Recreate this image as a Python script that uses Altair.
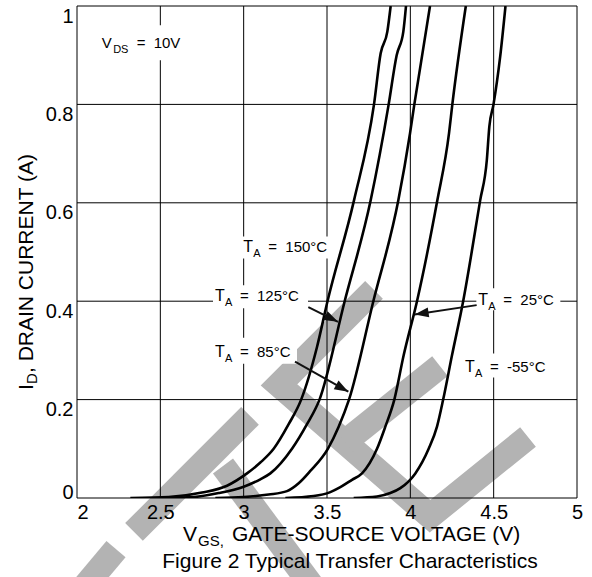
import math
import altair as alt
import pandas as pd

W, H = 500, 492
FONT = "Liberation Sans"
PXX = W / 3.0   # pixels per volt
PXY = H / 1.0   # pixels per ampere

# axis ticks
X_TICKS = [2, 2.5, 3, 3.5, 4, 4.5, 5]
Y_TICKS = [0, 0.2, 0.4, 0.6, 0.8, 1.0]

# transfer curves, one per ambient temperature
TEMPS = ["150°C", "125°C", "85°C", "25°C", "-55°C"]

VGS_150 = [2.32, 2.55, 2.75, 2.90, 3.02, 3.10, 3.18, 3.27, 3.345, 3.44, 3.503, 3.662, 3.782, 3.822, 3.862, 3.882]
ID_150 = [0, 0.002, 0.011, 0.025, 0.05, 0.072, 0.10, 0.15, 0.20, 0.307, 0.40, 0.605, 0.80, 0.904, 0.948, 1.0]

VGS_125 = [2.50, 2.70, 2.85, 3.00, 3.10, 3.16, 3.29, 3.38, 3.455, 3.606, 3.762, 3.870, 3.918, 3.958, 3.974]
ID_125 = [0, 0.002, 0.010, 0.023, 0.038, 0.05, 0.10, 0.15, 0.20, 0.40, 0.605, 0.80, 0.90, 0.948, 1.0]

VGS_85 = [2.83, 3.00, 3.15, 3.26, 3.33, 3.40, 3.505, 3.57, 3.632, 3.778, 3.928, 3.998, 4.024, 4.118]
ID_85 = [0, 0.002, 0.007, 0.014, 0.03, 0.055, 0.10, 0.145, 0.20, 0.40, 0.605, 0.741, 0.80, 1.0]

VGS_25 = [3.25, 3.42, 3.52, 3.58, 3.65, 3.71, 3.80, 3.85, 3.904, 3.96, 4.04, 4.162, 4.232, 4.252, 4.333]
ID_25 = [0, 0.004, 0.012, 0.022, 0.037, 0.05, 0.10, 0.145, 0.20, 0.29, 0.40, 0.605, 0.741, 0.80, 1.0]

VGS_M55 = [3.66, 3.80, 3.88, 3.94, 4.03, 4.11, 4.16, 4.197, 4.25, 4.317, 4.419, 4.459, 4.474, 4.499, 4.539, 4.571]
ID_M55 = [0, 0.003, 0.010, 0.020, 0.05, 0.10, 0.145, 0.20, 0.29, 0.40, 0.605, 0.687, 0.755, 0.80, 0.897, 1.0]

CURVES = [(VGS_150, ID_150), (VGS_125, ID_125), (VGS_85, ID_85), (VGS_25, ID_25), (VGS_M55, ID_M55)]

# temperature labels: anchor (left edge, baseline) in data units
LBL_X = [2.998, 2.828, 2.828, 4.408, 4.328]
LBL_Y = [0.499, 0.400, 0.287, 0.392, 0.257]

# white backing boxes around the labels, in pixels from the anchor
BOX_L = [-3, -2, -2, -2, -5]
BOX_R = [89, 93, 82, 82, 88]
BOX_T = [16, 16, 19, 17, 18]
BOX_B = [6, 7, 7, 5, 6]

# VDS note
VDS_X, VDS_Y = 2.148, 0.914

# leader arrows: from label to curve
ARR_TEMP = ["125°C", "85°C", "25°C"]
ARR_X0 = [3.388, 3.308, 4.398]
ARR_Y0 = [0.388, 0.277, 0.392]
ARR_X1 = [3.566, 3.628, 4.026]
ARR_Y1 = [0.358, 0.216, 0.373]

# watermark strokes (polylines in data units)
BAND_ID = ["a", "a", "b", "b", "c", "c", "z", "z", "z", "z", "f", "f"]
BAND_X = [2.342, 3.038, 2.018, 2.234, 2.876, 3.428, 3.782, 3.212, 4.118, 4.706, 3.608, 4.178]
BAND_Y = [-0.069, 0.167, -0.191, -0.104, 0.065, -0.187, 0.423, 0.230, -0.037, 0.124, 0.114, 0.268]

SX = alt.Scale(domain=[2, 5], nice=False, zero=False)
SY = alt.Scale(domain=[0, 1], nice=False, zero=False)

X_AXIS = alt.Axis(
    values=X_TICKS, format="~g", grid=False, domain=False, ticks=False, tickSize=0,
    labelPadding=4, labelFontSize=20, labelFont=FONT, labelColor="black", title=None,
    labelFlush=False, labelOverlap=False, zindex=1,
    labelAlign={"condition": {"test": "datum.value === 2", "value": "left"}, "value": "center"},
)
Y_AXIS = alt.Axis(
    values=Y_TICKS, format="~g", grid=False, domain=False, ticks=False, tickSize=0,
    labelPadding=4, labelFontSize=20, labelFont=FONT, labelColor="black", title=None,
    labelFlush=False, labelOverlap=False, zindex=1,
    labelBaseline={"condition": {"test": "datum.value === 0", "value": "alphabetic"}, "value": "top"},
)


def X(field, **kw):
    return alt.X(field, type="quantitative", scale=SX, axis=X_AXIS, **kw)


def Y(field, **kw):
    return alt.Y(field, type="quantitative", scale=SY, axis=Y_AXIS, **kw)


# ---- tables ----
curve_rows = []
for t, (xs, ys) in zip(TEMPS, CURVES):
    for k, (xv, yv) in enumerate(zip(xs, ys)):
        curve_rows.append({"temp": t, "vgs": xv, "id": yv, "k": k})
curves_df = pd.DataFrame(curve_rows)

band_df = pd.DataFrame({"band": BAND_ID, "x": BAND_X, "y": BAND_Y, "k": list(range(len(BAND_X)))})

lbl_df = pd.DataFrame({
    "temp": TEMPS, "x": LBL_X, "y": LBL_Y,
    "bx0": [x + l / PXX for x, l in zip(LBL_X, BOX_L)],
    "bx1": [x + r / PXX for x, r in zip(LBL_X, BOX_R)],
    "by0": [y + t / PXY for y, t in zip(LBL_Y, BOX_T)],
    "by1": [y - b / PXY for y, b in zip(LBL_Y, BOX_B)],
})

vds_df = pd.DataFrame({
    "x": [VDS_X], "y": [VDS_Y],
    "bx0": [VDS_X - 4 / PXX], "bx1": [VDS_X + 86 / PXX],
    "by0": [VDS_Y + 23 / PXY], "by1": [VDS_Y - 12 / PXY],
})

angles = []
for x0, y0, x1, y1 in zip(ARR_X0, ARR_Y0, ARR_X1, ARR_Y1):
    dxp = (x1 - x0) * PXX
    dyp = -(y1 - y0) * PXY
    angles.append(math.degrees(math.atan2(dyp, dxp)) % 360)
arr_df = pd.DataFrame({"temp": ARR_TEMP, "x0": ARR_X0, "y0": ARR_Y0, "x1": ARR_X1, "y1": ARR_Y1, "ang": angles})

# ---- layers ----
bands = alt.Chart(band_df).mark_line(
    color="#b3b3b3", strokeWidth=25, strokeCap="butt", strokeJoin="miter", clip=False
).encode(x=X("x"), y=Y("y"), detail="band:N", order="k:Q")

grid_v = alt.Chart(pd.DataFrame({"v": X_TICKS})).mark_rule(color="black", strokeWidth=1).encode(x=X("v"))
grid_h = alt.Chart(pd.DataFrame({"v": Y_TICKS})).mark_rule(color="black", strokeWidth=1).encode(y=Y("v"))

curves = alt.Chart(curves_df).mark_line(
    color="black", strokeWidth=2.6, interpolate="monotone", clip=True
).encode(x=X("vgs"), y=Y("id"), detail="temp:N", order="k:Q")

boxes = alt.Chart(lbl_df).mark_rect(color="white").encode(
    x=X("bx0"), x2="bx1", y=Y("by0"), y2="by1"
)
vds_box = alt.Chart(vds_df).mark_rect(color="white").encode(
    x=X("bx0"), x2="bx1", y=Y("by0"), y2="by1"
)

arrow_lines = alt.Chart(arr_df).mark_rule(color="#111", strokeWidth=2).encode(
    x=X("x0"), y=Y("y0"), x2="x1", y2="y1"
)
arrow_heads = alt.Chart(arr_df).mark_point(
    shape="M0,0L-2,-0.7L-2,0.7Z", filled=True, size=196, color="#111", opacity=1, strokeWidth=0
).encode(x=X("x1"), y=Y("y1"), angle=alt.Angle("ang:Q", scale=None))


def piece(df, text, size, dx=0, dy=0, field=None):
    return alt.Chart(df).mark_text(
        font=FONT, fontSize=size, align="left", baseline="alphabetic", dx=dx, dy=dy, color="black"
    ).encode(x=X("x"), y=Y("y"), text=(alt.Text(field + ":N") if field else alt.value(text)))


lbl_T = piece(lbl_df, "T", 16)
lbl_A = piece(lbl_df, "A", 11, dx=10, dy=5)
lbl_eq = piece(lbl_df, "=", 15, dx=25)
lbl_num = piece(lbl_df, None, 15, dx=42, field="temp")

vds_V = piece(vds_df, "V", 15)
vds_DS = piece(vds_df, "DS", 11, dx=11.5, dy=5)
vds_eq = piece(vds_df, "=", 15, dx=35)
vds_val = piece(vds_df, "10V", 15, dx=52)


def fixed_text(s, x, y, size, angle=0, align="left"):
    return alt.Chart(pd.DataFrame({"s": [s]})).mark_text(
        font=FONT, fontSize=size, align=align, baseline="alphabetic", angle=angle, color="black"
    ).encode(x=alt.value(x), y=alt.value(y), text="s:N")


titles = [
    fixed_text("V", 106, 535, 21),
    fixed_text("GS,", 121, 540, 15),
    fixed_text("GATE-SOURCE VOLTAGE (V)", 155, 535, 21),
    fixed_text("Figure 2 Typical Transfer Characteristics", 273, 562, 21, align="center"),
    fixed_text("I", -44, 384, 21, angle=270),
    fixed_text("D", -40, 378, 15, angle=270),
    fixed_text(", DRAIN CURRENT (A)", -44, 367, 21, angle=270),
]

chart = alt.layer(
    bands, grid_v, grid_h, boxes, vds_box, curves,
    arrow_lines, arrow_heads,
    lbl_T, lbl_A, lbl_eq, lbl_num,
    vds_V, vds_DS, vds_eq, vds_val,
    *titles,
).properties(
    width=W, height=H,
    padding={"left": 77, "top": 6, "right": 15, "bottom": 79},
    autosize=alt.AutoSizeParams(type="none"),
    background="white",
).configure_view(stroke=None)

chart.save("out.html", embed_options={"renderer": "svg", "actions": False})
